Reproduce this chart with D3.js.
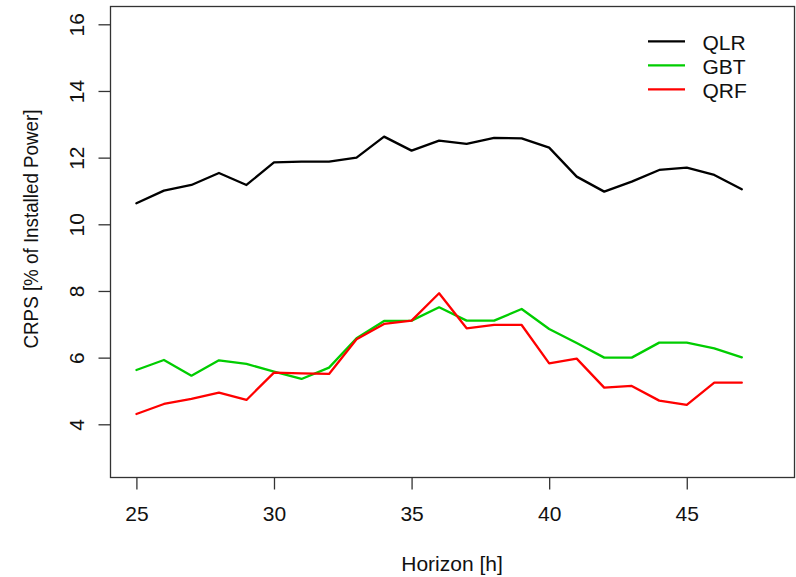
<!DOCTYPE html>
<html>
<head>
<meta charset="utf-8">
<script src="https://cdn.jsdelivr.net/npm/d3@7"></script>
<style>
  html, body { margin: 0; padding: 0; background: #fff; }
  svg text { font-family: "Liberation Sans", Arial, sans-serif; fill: #111; }
</style>
</head>
<body>
<svg id="chart" width="796" height="577"></svg>
<script>
const horizons = [25,26,27,28,29,30,31,32,33,34,35,36,37,38,39,40,41,42,43,44,45,46,47];
const qlr = [10.63,11.01,11.18,11.54,11.18,11.86,11.88,11.88,12.00,12.63,12.21,12.51,12.41,12.59,12.58,12.30,11.43,10.98,11.28,11.63,11.70,11.48,11.05];
const gbt = [5.63,5.93,5.46,5.92,5.81,5.58,5.36,5.70,6.58,7.10,7.11,7.51,7.11,7.11,7.46,6.86,6.44,6.00,6.00,6.45,6.45,6.28,6.01];
const qrf = [4.31,4.61,4.76,4.95,4.73,5.55,5.53,5.51,6.55,7.01,7.11,7.93,6.88,6.98,6.98,5.83,5.97,5.10,5.15,4.71,4.58,5.25,5.25];
const seriesNames = ["QLR","GBT","QRF"];
const seriesColors = ["#000000","#00CD00","#FF0000"];
const xTicks = [25,30,35,40,45];
const yTicks = [4,6,8,10,12,14,16];
const xTitle = "Horizon [h]";
const yTitle = "CRPS [% of Installed Power]";

const svg = d3.select("#chart");
const box = {left: 110, top: 6, right: 794, bottom: 477};

const x = d3.scaleLinear().domain([25,47]).range([136.4, 741.8]);
const y = d3.scaleLinear().domain([4,16]).range([424.3, 24.3]);

// lines
const line = d3.line().x((d,i) => x(horizons[i])).y(d => y(d));
[qlr, gbt, qrf].forEach((s, k) => {
  svg.append("path")
    .datum(s)
    .attr("d", line)
    .attr("fill", "none")
    .attr("stroke", seriesColors[k])
    .attr("stroke-width", 2.3)
    .attr("stroke-linejoin", "round")
    .attr("stroke-linecap", "round");
});

// frame
svg.append("rect")
  .attr("x", box.left + 0.5).attr("y", box.top + 0.5)
  .attr("width", box.right - box.left).attr("height", box.bottom - box.top)
  .attr("fill", "none").attr("stroke", "#333").attr("stroke-width", 1.3);

// x axis
const gx = svg.append("g")
  .attr("transform", `translate(0,${box.bottom + 0.5})`)
  .call(d3.axisBottom(x).tickValues(xTicks).tickSize(12).tickPadding(17).tickFormat(d3.format("d")));
gx.select(".domain").remove();
gx.selectAll(".tick line").attr("stroke", "#333").attr("stroke-width", 1.3);
gx.selectAll(".tick text").attr("font-size", 21).attr("fill", "#111")
  .attr("font-family", '"Liberation Sans", Arial, sans-serif');

// y axis
const gy = svg.append("g")
  .attr("transform", `translate(${box.left + 0.5},0)`)
  .call(d3.axisLeft(y).tickValues(yTicks).tickSize(12).tickFormat(d3.format("d")));
gy.select(".domain").remove();
gy.selectAll(".tick line").attr("stroke", "#333").attr("stroke-width", 1.3);
gy.selectAll(".tick text")
  .attr("x", null).attr("dy", null)
  .attr("text-anchor", "middle")
  .attr("transform", "translate(-27,0) rotate(-90)")
  .attr("font-size", 21).attr("fill", "#111")
  .attr("font-family", '"Liberation Sans", Arial, sans-serif');

// titles
svg.append("text")
  .attr("x", (box.left + box.right) / 2).attr("y", 570.5)
  .attr("text-anchor", "middle").attr("font-size", 21)
  .text(xTitle);
svg.append("text")
  .attr("transform", "translate(37.5,229) rotate(-90)")
  .attr("text-anchor", "middle").attr("font-size", 21)
  .attr("textLength", 239).attr("lengthAdjust", "spacingAndGlyphs")
  .text(yTitle);

// legend
const legend = svg.append("g");
seriesNames.forEach((name, k) => {
  const ly = 41.3 + k * 24;
  legend.append("line")
    .attr("x1", 648).attr("x2", 685).attr("y1", ly).attr("y2", ly)
    .attr("stroke", seriesColors[k]).attr("stroke-width", 2.3);
  legend.append("text")
    .attr("x", 702.5).attr("y", ly + 8.5)
    .attr("font-size", 21)
    .text(name);
});
</script>
</body>
</html>
